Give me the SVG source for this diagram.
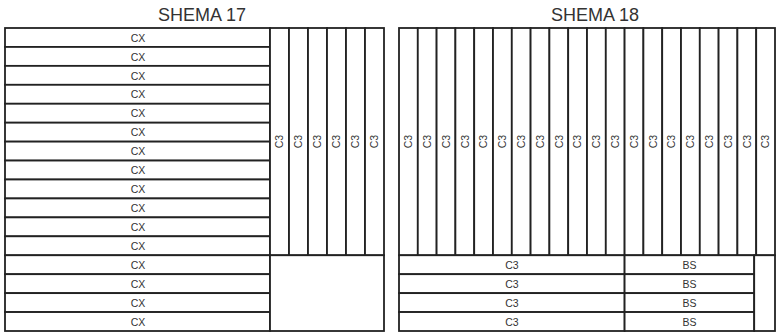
<svg xmlns="http://www.w3.org/2000/svg" width="779" height="334" viewBox="0 0 779 334">
<style>
rect{fill:#fff;stroke:#222;stroke-width:1.8}
text{font-family:"Liberation Sans",Arial,sans-serif;fill:#333;text-anchor:middle}
.t{font-size:18px}
.l{font-size:10.5px}
</style>
<rect x="0" y="0" width="779" height="334" style="stroke:none"/>
<text class="t" x="202" y="21">SHEMA 17</text>
<text class="t" x="595" y="21">SHEMA 18</text>
<g id="schema17">
<g id="cx-rows">
<g id="cx1"><rect x="5" y="28" width="265" height="18.94"/><text class="l" x="138" y="41.6">CX</text></g>
<g id="cx2"><rect x="5" y="46.94" width="265" height="18.94"/><text class="l" x="138" y="60.5">CX</text></g>
<g id="cx3"><rect x="5" y="65.88" width="265" height="18.94"/><text class="l" x="138" y="79.5">CX</text></g>
<g id="cx4"><rect x="5" y="84.81" width="265" height="18.94"/><text class="l" x="138" y="98.4">CX</text></g>
<g id="cx5"><rect x="5" y="103.75" width="265" height="18.94"/><text class="l" x="138" y="117.4">CX</text></g>
<g id="cx6"><rect x="5" y="122.69" width="265" height="18.94"/><text class="l" x="138" y="136.3">CX</text></g>
<g id="cx7"><rect x="5" y="141.63" width="265" height="18.94"/><text class="l" x="138" y="155.2">CX</text></g>
<g id="cx8"><rect x="5" y="160.56" width="265" height="18.94"/><text class="l" x="138" y="174.2">CX</text></g>
<g id="cx9"><rect x="5" y="179.5" width="265" height="18.94"/><text class="l" x="138" y="193.1">CX</text></g>
<g id="cx10"><rect x="5" y="198.44" width="265" height="18.94"/><text class="l" x="138" y="212">CX</text></g>
<g id="cx11"><rect x="5" y="217.38" width="265" height="18.94"/><text class="l" x="138" y="231">CX</text></g>
<g id="cx12"><rect x="5" y="236.31" width="265" height="18.94"/><text class="l" x="138" y="249.9">CX</text></g>
<g id="cx13"><rect x="5" y="255.25" width="265" height="18.94"/><text class="l" x="138" y="268.9">CX</text></g>
<g id="cx14"><rect x="5" y="274.19" width="265" height="18.94"/><text class="l" x="138" y="287.8">CX</text></g>
<g id="cx15"><rect x="5" y="293.13" width="265" height="18.94"/><text class="l" x="138" y="306.7">CX</text></g>
<g id="cx16"><rect x="5" y="312.06" width="265" height="18.94"/><text class="l" x="138" y="325.5">CX</text></g>
</g>
<g id="c3-cols-17">
<g id="l-c3-1"><rect x="270" y="28" width="19" height="227.25"/><text class="l" transform="translate(283.3 141.6) rotate(-90)">C3</text></g>
<g id="l-c3-2"><rect x="289" y="28" width="19" height="227.25"/><text class="l" transform="translate(302.3 141.6) rotate(-90)">C3</text></g>
<g id="l-c3-3"><rect x="308" y="28" width="19" height="227.25"/><text class="l" transform="translate(321.3 141.6) rotate(-90)">C3</text></g>
<g id="l-c3-4"><rect x="327" y="28" width="19" height="227.25"/><text class="l" transform="translate(340.3 141.6) rotate(-90)">C3</text></g>
<g id="l-c3-5"><rect x="346" y="28" width="19" height="227.25"/><text class="l" transform="translate(359.3 141.6) rotate(-90)">C3</text></g>
<g id="l-c3-6"><rect x="365" y="28" width="19" height="227.25"/><text class="l" transform="translate(378.3 141.6) rotate(-90)">C3</text></g>
</g>
<g id="empty-17"><rect x="270" y="255.25" width="114" height="75.75"/></g>
</g>
<g id="schema18">
<g id="c3-cols-18">
<g id="r-c3-1"><rect x="399" y="28" width="18.8" height="227.25"/><text class="l" transform="translate(412.2 141.6) rotate(-90)">C3</text></g>
<g id="r-c3-2"><rect x="417.8" y="28" width="18.8" height="227.25"/><text class="l" transform="translate(431 141.6) rotate(-90)">C3</text></g>
<g id="r-c3-3"><rect x="436.6" y="28" width="18.8" height="227.25"/><text class="l" transform="translate(449.8 141.6) rotate(-90)">C3</text></g>
<g id="r-c3-4"><rect x="455.4" y="28" width="18.8" height="227.25"/><text class="l" transform="translate(468.6 141.6) rotate(-90)">C3</text></g>
<g id="r-c3-5"><rect x="474.2" y="28" width="18.8" height="227.25"/><text class="l" transform="translate(487.4 141.6) rotate(-90)">C3</text></g>
<g id="r-c3-6"><rect x="493" y="28" width="18.8" height="227.25"/><text class="l" transform="translate(506.2 141.6) rotate(-90)">C3</text></g>
<g id="r-c3-7"><rect x="511.8" y="28" width="18.8" height="227.25"/><text class="l" transform="translate(525 141.6) rotate(-90)">C3</text></g>
<g id="r-c3-8"><rect x="530.6" y="28" width="18.8" height="227.25"/><text class="l" transform="translate(543.8 141.6) rotate(-90)">C3</text></g>
<g id="r-c3-9"><rect x="549.4" y="28" width="18.8" height="227.25"/><text class="l" transform="translate(562.6 141.6) rotate(-90)">C3</text></g>
<g id="r-c3-10"><rect x="568.2" y="28" width="18.8" height="227.25"/><text class="l" transform="translate(581.4 141.6) rotate(-90)">C3</text></g>
<g id="r-c3-11"><rect x="587" y="28" width="18.8" height="227.25"/><text class="l" transform="translate(600.2 141.6) rotate(-90)">C3</text></g>
<g id="r-c3-12"><rect x="605.8" y="28" width="18.8" height="227.25"/><text class="l" transform="translate(619 141.6) rotate(-90)">C3</text></g>
<g id="r-c3-13"><rect x="624.6" y="28" width="18.8" height="227.25"/><text class="l" transform="translate(637.8 141.6) rotate(-90)">C3</text></g>
<g id="r-c3-14"><rect x="643.4" y="28" width="18.8" height="227.25"/><text class="l" transform="translate(656.6 141.6) rotate(-90)">C3</text></g>
<g id="r-c3-15"><rect x="662.2" y="28" width="18.8" height="227.25"/><text class="l" transform="translate(675.4 141.6) rotate(-90)">C3</text></g>
<g id="r-c3-16"><rect x="681" y="28" width="18.8" height="227.25"/><text class="l" transform="translate(694.2 141.6) rotate(-90)">C3</text></g>
<g id="r-c3-17"><rect x="699.8" y="28" width="18.8" height="227.25"/><text class="l" transform="translate(713 141.6) rotate(-90)">C3</text></g>
<g id="r-c3-18"><rect x="718.6" y="28" width="18.8" height="227.25"/><text class="l" transform="translate(731.8 141.6) rotate(-90)">C3</text></g>
<g id="r-c3-19"><rect x="737.4" y="28" width="18.8" height="227.25"/><text class="l" transform="translate(750.6 141.6) rotate(-90)">C3</text></g>
<g id="r-c3-20"><rect x="756.2" y="28" width="18.8" height="227.25"/><text class="l" transform="translate(769.4 141.6) rotate(-90)">C3</text></g>
</g>
<g id="bottom-rows-18">
<g id="b-c3-1"><rect x="399" y="255.25" width="225.6" height="18.94"/><text class="l" x="512" y="268.9">C3</text></g>
<g id="b-bs-1"><rect x="624.6" y="255.25" width="129.6" height="18.94"/><text class="l" x="689.5" y="268.9">BS</text></g>
<g id="b-c3-2"><rect x="399" y="274.19" width="225.6" height="18.94"/><text class="l" x="512" y="287.8">C3</text></g>
<g id="b-bs-2"><rect x="624.6" y="274.19" width="129.6" height="18.94"/><text class="l" x="689.5" y="287.8">BS</text></g>
<g id="b-c3-3"><rect x="399" y="293.13" width="225.6" height="18.94"/><text class="l" x="512" y="306.7">C3</text></g>
<g id="b-bs-3"><rect x="624.6" y="293.13" width="129.6" height="18.94"/><text class="l" x="689.5" y="306.7">BS</text></g>
<g id="b-c3-4"><rect x="399" y="312.06" width="225.6" height="18.94"/><text class="l" x="512" y="325.5">C3</text></g>
<g id="b-bs-4"><rect x="624.6" y="312.06" width="129.6" height="18.94"/><text class="l" x="689.5" y="325.5">BS</text></g>
</g>
<g id="empty-18"><rect x="754.2" y="255.25" width="20.8" height="75.75"/></g>
</g>
</svg>
